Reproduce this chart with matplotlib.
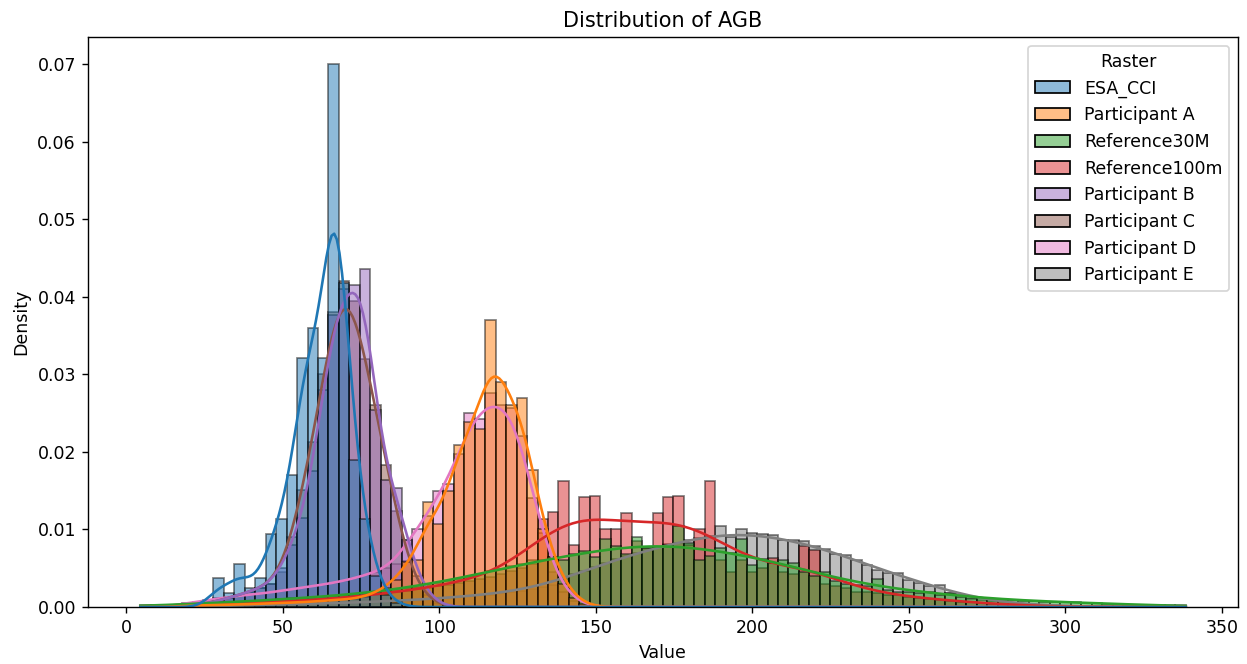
import matplotlib.pyplot as plt
import numpy as np
from matplotlib.patches import Patch
from matplotlib.colors import to_rgba

# common histogram bins (value range of all rasters)
bin_lo, bin_hi, n_bins = 4.5, 338.5, 100

rasters = ['ESA_CCI', 'Participant A', 'Reference30M', 'Reference100m',
           'Participant B', 'Participant C', 'Participant D', 'Participant E']
colors = ['#1f77b4', '#ff7f0e', '#2ca02c', '#d62728',
          '#9467bd', '#8c564b', '#e377c2', '#7f7f7f']

# density per bin, list starts at bin index *_start
esa_cci_start = 6
esa_cci = [.0005, .0037, .0018, .0056, .0025, .0037, .0094, .0114, .0170, .0321,
           .0360, .0321, .0700, .0418, .0190, .0113, .0040, .0015, .0005]

part_a_start = 3
part_a = [.0001, .0002, .0002, .0002, .0003, .0003, .0003, .0004, .0004, .0005,
          .0005, .0006, .0006, .0007, .0008, .0009, .0010, .0010, .0013, .0018,
          .0025, .0035, .0058, .0061, .0136, .0107, .0149, .0209, .0238, .0230,
          .0370, .0290, .0261, .0269, .0177, .0100, .0065, .0030, .0012, .0004]

ref30_start = 0
ref30 = [.0002, .0002, .0003, .0003, .0004, .0004, .0005, .0005, .0006, .0007,
         .0007, .0008, .0009, .0010, .0011, .0012, .0012, .0013, .0014, .0015,
         .0016, .0017, .0019, .0020, .0022, .0024, .0026, .0029, .0031, .0034,
         .0036, .0039, .0042, .0046, .0049, .0053, .0056, .0060, .0061, .0064,
         .0060, .0068, .0072, .0065, .0088, .0079, .0069, .0090, .0076, .0078,
         .0080, .0105, .0082, .0060, .0066, .0076, .0070, .0088, .0054, .0062,
         .0057, .0060, .0057, .0045, .0040, .0045, .0034, .0030, .0028, .0027,
         .0036, .0022, .0020, .0019, .0018, .0020, .0016, .0018, .0013, .0012,
         .0011, .0010, .0009, .0009, .0008, .0008, .0007, .0007, .0006, .0006,
         .0005, .0005, .0004, .0004, .0003, .0003, .0003, .0002, .0002, .0002]

ref100_start = 0
ref100 = [.0001, .0001, .0002, .0002, .0003, .0003, .0004, .0004, .0005, .0005,
          .0006, .0006, .0007, .0007, .0008, .0008, .0009, .0010, .0011, .0012,
          .0013, .0014, .0015, .0017, .0019, .0021, .0023, .0025, .0027, .0029,
          .0031, .0034, .0036, .0039, .0042, .0046, .0050, .0055, .0114, .0122,
          .0163, .0080, .0142, .0143, .0100, .0100, .0121, .0085, .0076, .0121,
          .0142, .0143, .0080, .0101, .0163, .0060, .0045, .0061, .0045, .0050,
          .0063, .0045, .0042, .0079, .0074, .0030, .0027, .0025, .0020, .0020,
          .0018, .0016, .0015, .0013, .0012, .0010, .0009, .0008, .0007, .0006,
          .0005, .0004, .0003, .0003, .0002, .0002]

part_b_start = 3
part_b = [.0002, .0002, .0003, .0005, .0008, .0012, .0016, .0020, .0025, .0030,
          .0050, .0080, .0115, .0176, .0280, .0376, .0410, .0415, .0436, .0254,
          .0164, .0154, .0087, .0040, .0015, .0005]

part_c_start = 3
part_c = [.0002, .0003, .0003, .0005, .0008, .0012, .0016, .0020, .0025, .0030,
          .0045, .0090, .0151, .0213, .0300, .0380, .0420, .0395, .0320, .0260,
          .0183, .0124, .0059, .0025, .0010, .0004]

part_d_start = 3
part_d = [.0003, .0005, .0007, .0009, .0011, .0013, .0015, .0016, .0017, .0019,
          .0021, .0023, .0025, .0027, .0029, .0031, .0034, .0037, .0041, .0045,
          .0050, .0055, .0087, .0100, .0117, .0149, .0158, .0197, .0250, .0243,
          .0276, .0261, .0257, .0221, .0141, .0095, .0045, .0020, .0008, .0003]

part_e_start = 7
part_e = [.0002, .0002, .0002, .0003, .0003, .0003, .0003, .0004, .0004, .0004,
          .0005, .0005, .0005, .0006, .0006, .0007, .0007, .0008, .0009, .0009,
          .0010, .0011, .0012, .0013, .0014, .0015, .0016, .0018, .0019, .0021,
          .0023, .0026, .0029, .0036, .0042, .0047, .0052, .0057, .0062, .0066,
          .0070, .0074, .0078, .0081, .0083, .0086, .0089, .0092, .0105, .0090,
          .0100, .0095, .0094, .0093, .0087, .0087, .0085, .0079, .0075, .0069,
          .0067, .0061, .0054, .0048, .0044, .0044, .0035, .0031, .0027, .0028,
          .0018, .0015, .0010, .0009, .0008, .0005, .0004, .0003, .0003, .0002,
          .0002, .0001, .0001]

series = [(esa_cci_start, esa_cci), (part_a_start, part_a), (ref30_start, ref30),
          (ref100_start, ref100), (part_b_start, part_b), (part_c_start, part_c),
          (part_d_start, part_d), (part_e_start, part_e)]
kde_bw = [3.5, 4.0, 14, 12, 3.5, 3.8, 4.3, 11]

edges = np.linspace(bin_lo, bin_hi, n_bins + 1)
width = edges[1] - edges[0]
centers = edges[:-1] + width / 2
grid = np.linspace(bin_lo, bin_hi, 400)


def full_bins(start, vals):
    h = np.zeros(n_bins)
    h[start:start + len(vals)] = vals
    return h


def kde_from_bins(h, bw):
    # gaussian smoothing of the binned densities
    z = (grid[:, None] - centers[None, :]) / bw
    k = np.exp(-0.5 * z ** 2) / (bw * np.sqrt(2 * np.pi))
    return (k * (h * width)[None, :]).sum(axis=1)


fig, ax = plt.subplots(figsize=(9.976, 5.312), dpi=125)
fig.subplots_adjust(left=0.0706, right=0.9928, top=0.9443, bottom=0.0858)

heights = [full_bins(s, v) for s, v in series]

# last raster at the bottom, first one on top (like seaborn layering)
for h, c in zip(heights[::-1], colors[::-1]):
    ax.bar(edges[:-1], h, width=width, align='edge', color=c, alpha=0.5,
           edgecolor='black', linewidth=1)

for h, c, bw in zip(heights[::-1], colors[::-1], kde_bw[::-1]):
    ax.plot(grid, kde_from_bins(h, bw), color=c, linewidth=1.5)

handles = [Patch(facecolor=to_rgba(c, 0.5), edgecolor='black', label=r)
           for r, c in zip(rasters, colors)]
ax.legend(handles=handles, title='Raster', loc='upper right')

ax.set_title('Distribution of AGB')
ax.set_xlabel('Value')
ax.set_ylabel('Density')

plt.savefig('out.png')
